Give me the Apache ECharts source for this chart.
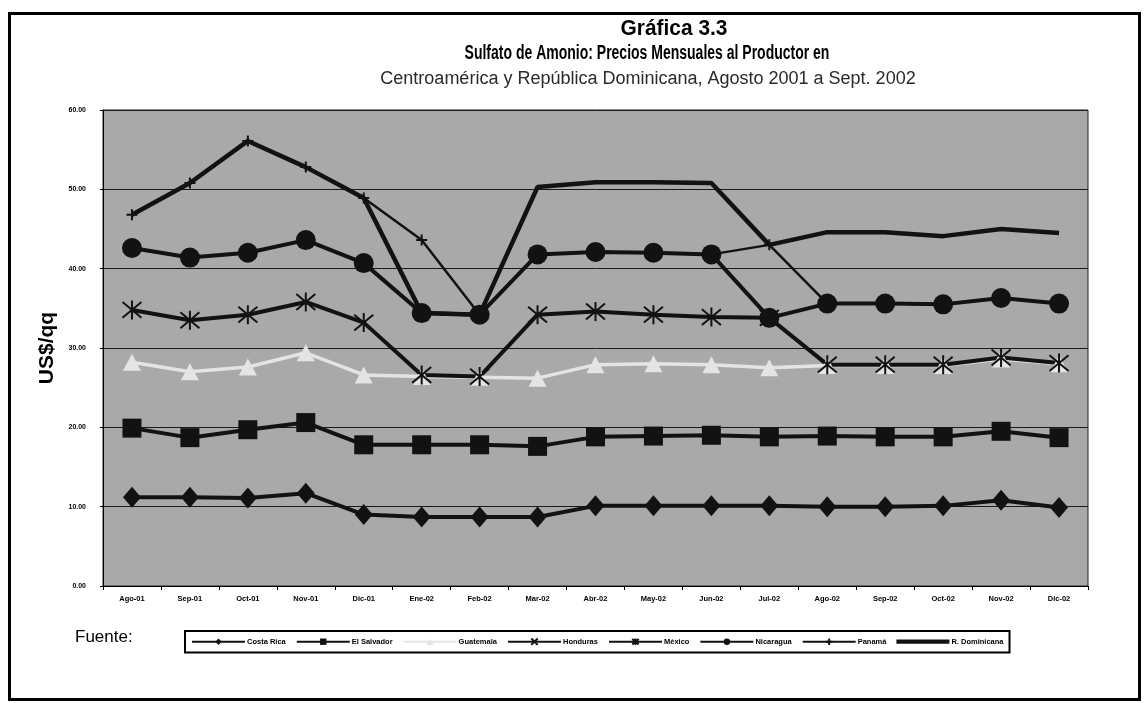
<!DOCTYPE html>
<html>
<head>
<meta charset="utf-8">
<script src="https://cdn.jsdelivr.net/npm/echarts@6/dist/echarts.min.js"></script>
<style>
html,body{margin:0;padding:0;background:#fff}
#chart{width:1147px;height:703px}
</style>
</head>
<body>
<div id="chart"></div>
<script>
// Meses del periodo
const months = ['Ago-01','Sep-01','Oct-01','Nov-01','Dic-01','Ene-02','Feb-02','Mar-02','Abr-02','May-02','Jun-02','Jul-02','Ago-02','Sep-02','Oct-02','Nov-02','Dic-02'];

// Precios al productor, US$/qq
const costaRica    = [11.2, 11.2, 11.1, 11.7, 9.0, 8.7, 8.7, 8.7, 10.1, 10.1, 10.1, 10.1, 10.0, 10.0, 10.1, 10.8, 9.9];
const elSalvador   = [19.9, 18.7, 19.7, 20.6, 17.8, 17.8, 17.8, 17.6, 18.8, 18.9, 19.0, 18.8, 18.9, 18.8, 18.8, 19.5, 18.7];
const guatemala    = [28.2, 27.0, 27.6, 29.4, 26.6, 26.4, 26.3, 26.2, 27.9, 28.0, 27.9, 27.5, 27.8, 27.8, 27.8, 28.6, 28.0];
const honduras     = [null, null, null, null, null, null, null, null, null, null, null, null, null, null, null, null, null];
const mexico       = [34.8, 33.5, 34.2, 35.8, 33.2, 26.6, 26.4, 34.2, 34.6, 34.2, 33.9, 33.8, 27.9, 27.9, 27.9, 28.8, 28.1];
const nicaragua    = [42.6, 41.4, 42.0, 43.6, 40.7, 34.4, 34.2, 41.8, 42.1, 42.0, 41.8, 33.8, 35.6, 35.6, 35.5, 36.3, 35.6];
const panama       = [46.8, 50.8, 56.1, 52.8, 48.9, 43.6, 34.2, 41.8, 42.1, 42.0, 41.8, 43.0, 35.6, 35.6, 35.5, 36.3, 35.6];
const rDominicana  = [46.8, 50.8, 56.1, 52.8, 48.9, 34.4, 34.2, 50.3, 50.9, 50.9, 50.8, 43.0, 44.6, 44.6, 44.1, 45.0, 44.5];

// Eje vertical
const yTicks = [0, 10, 20, 30, 40, 50, 60];

const INK = '#121212';
const STAR = 'path://M0,0L20,20M20,0L0,20M10,-2L10,22';
const PLUS = 'path://M10,0L10,20M0,10L20,10';
const CROSS = 'path://M0,0L20,20M20,0L0,20';
const BAR = 'path://M0,0H100V8H0Z';

function line(name, data, o) {
  return {
    name: name,
    type: 'line',
    data: data,
    symbol: o.symbol,
    symbolSize: o.size,
    showSymbol: o.symbol !== 'none',
    lineStyle: { color: o.color || INK, width: o.width },
    itemStyle: {
      color: o.fill !== undefined ? o.fill : (o.color || INK),
      borderColor: o.stroke ? (o.color || INK) : undefined,
      borderWidth: o.stroke ? o.stroke : 0
    },
    emphasis: { disabled: true },
    animation: false,
    z: o.z || 2
  };
}

const chart = echarts.init(document.getElementById('chart'), null, { renderer: 'canvas' });

chart.setOption({
  backgroundColor: '#ffffff',
  animation: false,
  graphic: [
    { type: 'rect', silent: true, z: 0,
      shape: { x: 9.5, y: 13.5, width: 1130, height: 686 },
      style: { fill: 'none', stroke: '#000', lineWidth: 3 } },
    { type: 'text', silent: true, x: 674, y: 29, scaleX: 0.95,
      style: { text: 'Gráfica 3.3', fontFamily: '"Liberation Sans", Arial', fontWeight: 'bold', fontSize: 22, fill: '#000', align: 'center', verticalAlign: 'middle' } },
    { type: 'text', silent: true, x: 647, y: 53, scaleX: 0.7,
      style: { text: 'Sulfato de Amonio: Precios Mensuales al Productor en', fontFamily: '"Liberation Sans", Arial', fontWeight: 'bold', fontSize: 20, fill: '#000', align: 'center', verticalAlign: 'middle' } },
    { type: 'text', silent: true, x: 648, y: 79,
      style: { text: 'Centroamérica y República Dominicana, Agosto 2001 a Sept. 2002', fontFamily: '"Liberation Sans", Arial', fontSize: 18, fill: '#2a2a2a', align: 'center', verticalAlign: 'middle' } },
    { type: 'text', silent: true, x: 75, y: 637,
      style: { text: 'Fuente:', fontFamily: '"Liberation Sans", Arial', fontSize: 17, fill: '#000', align: 'left', verticalAlign: 'middle' } }
  ],
  grid: {
    left: 103, right: 59, top: 110, bottom: 117,
    show: true, backgroundColor: '#a9a9a9', borderColor: '#222', borderWidth: 1
  },
  legend: {
    left: 185, top: 631,
    itemWidth: 53, itemHeight: 8, itemGap: 10,
    padding: [5, 6],
    borderColor: '#000', borderWidth: 2,
    textStyle: { fontFamily: '"Liberation Sans", Arial', fontSize: 7.5, fontWeight: 'bold', color: '#000', padding: [0, 0, 0, -3] },
    data: ['Costa Rica', 'El Salvador', 'Guatemala', 'Honduras', 'México', 'Nicaragua', 'Panamá',
      { name: 'R. Dominicana', icon: BAR }]
  },
  xAxis: {
    type: 'category',
    data: months,
    boundaryGap: true,
    axisLine: { lineStyle: { color: '#000', width: 1 } },
    axisTick: { show: true, length: 4, interval: 0, lineStyle: { color: '#000' } },
    axisLabel: { interval: 0, margin: 9, fontFamily: '"Liberation Sans", Arial', fontSize: 7.5, fontWeight: 'bold', color: '#000' },
    splitLine: { show: false }
  },
  yAxis: {
    type: 'value',
    min: yTicks[0], max: yTicks[yTicks.length - 1], interval: 10,
    name: 'US$/qq', nameLocation: 'middle', nameGap: 44,
    nameTextStyle: { fontFamily: '"Liberation Sans", Arial', fontSize: 21, fontWeight: 'bold', color: '#000' },
    axisLine: { show: true, lineStyle: { color: '#000', width: 1 } },
    axisTick: { show: true, length: 3, lineStyle: { color: '#000' } },
    axisLabel: { margin: 17, fontFamily: '"Liberation Sans", Arial', fontSize: 7, fontWeight: 'bold', color: '#000',
      formatter: v => v.toFixed(2) },
    splitLine: { show: true, lineStyle: { color: '#1a1a1a', width: 1 } }
  },
  series: [
    line('Costa Rica', costaRica, { symbol: 'diamond', size: [18, 21], width: 4 }),
    line('El Salvador', elSalvador, { symbol: 'rect', size: 19, width: 4 }),
    line('Guatemala', guatemala, { symbol: 'triangle', size: [18, 17], width: 3.5, color: '#e4e4e4' }),
    line('Honduras', honduras, { symbol: CROSS, size: 9, width: 2, fill: 'none', stroke: 1.5 }),
    line('México', mexico, { symbol: STAR, size: 19, width: 4, fill: 'none', stroke: 2 }),
    line('Nicaragua', nicaragua, { symbol: 'circle', size: 20, width: 4 }),
    line('Panamá', panama, { symbol: PLUS, size: 11, width: 2.5, fill: 'none', stroke: 2 }),
    line('R. Dominicana', rDominicana, { symbol: 'none', size: 0, width: 4.5 })
  ]
});
</script>
</body>
</html>
